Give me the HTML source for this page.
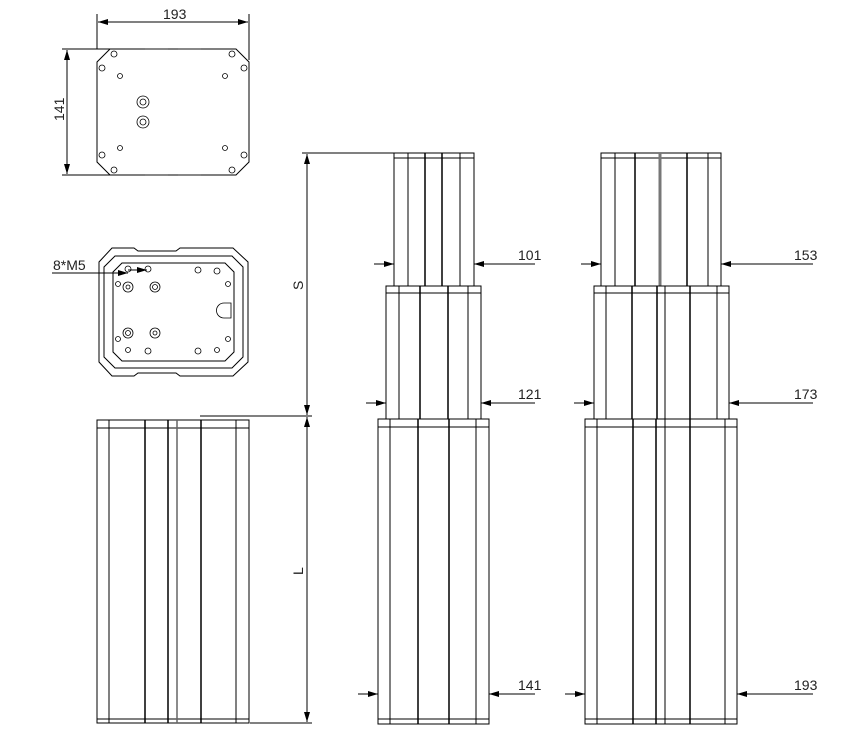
<!DOCTYPE html>
<html><head><meta charset="utf-8"><style>
html,body{margin:0;padding:0;background:#fff;}
svg{display:block;}
text{font-family:"Liberation Sans",sans-serif;font-size:14px;fill:#222;}
</style></head><body>
<svg width="863" height="738" viewBox="0 0 863 738" xmlns="http://www.w3.org/2000/svg">
<defs>
<marker id="a" viewBox="0 0 10 6" refX="10" refY="3" markerWidth="16" markerHeight="6" orient="auto-start-reverse" markerUnits="userSpaceOnUse"><path d="M0,0 L10,3 L0,6z" fill="#000"/></marker>
</defs>
<g stroke="#000" stroke-width="1" fill="none">
<line x1="97" y1="14" x2="97" y2="49"/><line x1="249" y1="14" x2="249" y2="60"/>
<line x1="98" y1="22" x2="248" y2="22" marker-start="url(#a)" marker-end="url(#a)"/>
<line x1="62" y1="49" x2="110" y2="49"/><line x1="62" y1="175" x2="110" y2="175"/>
<line x1="67" y1="50" x2="67" y2="174" marker-start="url(#a)" marker-end="url(#a)"/>
<path d="M110,49 L236,49 L249,62 L249,162 L236,175 L110,175 L97,162 L97,62 Z"/>
<g stroke="#888" stroke-width="2"><line x1="145" y1="49" x2="168" y2="49"/><line x1="178" y1="49" x2="201" y2="49"/><line x1="145" y1="175" x2="168" y2="175"/><line x1="178" y1="175" x2="201" y2="175"/></g>
<g stroke-width="0.8">
<circle cx="114" cy="54" r="3"/><circle cx="232" cy="54" r="3"/><circle cx="102" cy="68" r="3"/><circle cx="244" cy="68" r="3"/>
<circle cx="102" cy="155" r="3"/><circle cx="244" cy="155" r="3"/><circle cx="114" cy="170" r="3"/><circle cx="232" cy="170" r="3"/>
<circle cx="120" cy="76" r="2.5"/><circle cx="225" cy="76" r="2.5"/><circle cx="120" cy="148" r="2.5"/><circle cx="225" cy="148" r="2.5"/>
<circle cx="143" cy="102" r="6"/><circle cx="143" cy="102" r="3"/><circle cx="143" cy="122" r="6"/><circle cx="143" cy="122" r="3"/>
</g>
<path d="M112,248 L134,248 L138,251 L176,251 L180,248 L233,248 L248,262 L248,362 L233,376 L180,376 L176,373 L138,373 L134,376 L112,376 L99,362 L99,262 Z"/>
<path d="M115,256 L232,256 L243,267 L243,357 L232,368 L115,368 L104,357 L104,267 Z"/>
<path d="M122,263 L225,263 L234,272 L234,352 L225,361 L122,361 L113,352 L113,272 Z"/>
<g stroke-width="0.8">
<circle cx="128" cy="269" r="3"/><circle cx="148" cy="269" r="3"/><circle cx="198" cy="270" r="3"/><circle cx="217" cy="271" r="3"/>
<circle cx="118" cy="284" r="2.5"/><circle cx="228" cy="284" r="2.5"/><circle cx="118" cy="339" r="2.5"/><circle cx="228" cy="339" r="2.5"/>
<circle cx="128" cy="350" r="2.5"/><circle cx="148" cy="351" r="3"/><circle cx="198" cy="351" r="3"/><circle cx="217" cy="350" r="2.5"/>
<circle cx="128" cy="287" r="5"/><circle cx="128" cy="287" r="2"/><circle cx="155" cy="287" r="5"/><circle cx="155" cy="287" r="2.5"/>
<circle cx="128" cy="333" r="5"/><circle cx="128" cy="333" r="2.5"/><circle cx="155" cy="333" r="5"/><circle cx="155" cy="333" r="2"/>
<path d="M224,303 L231,303 L231,318 L224,318 A7,7 0 0 1 224,303 Z"/>
</g>
<line x1="52" y1="273" x2="128" y2="273" marker-end="url(#a)"/>
<line x1="128" y1="270" x2="147" y2="270" marker-end="url(#a)"/>
<line x1="302" y1="153" x2="394" y2="153"/>
<line x1="200" y1="416" x2="312" y2="416"/>
<line x1="250" y1="723" x2="312" y2="723"/>
<line x1="307" y1="154" x2="307" y2="415" marker-start="url(#a)" marker-end="url(#a)"/>
<line x1="307" y1="417" x2="307" y2="722" marker-start="url(#a)" marker-end="url(#a)"/>
<rect x="97" y="420" width="152" height="303"/>
<line x1="97" y1="428" x2="249" y2="428"/><line x1="97" y1="719" x2="249" y2="719"/>
<g><line x1="109" y1="420" x2="109" y2="723"/><line x1="145" y1="420" x2="145" y2="723" stroke-width="1.5"/><line x1="168" y1="420" x2="168" y2="723" stroke-width="1.5"/><line x1="177" y1="420" x2="177" y2="723" stroke="#666" stroke-width="1.5"/><line x1="201" y1="420" x2="201" y2="723" stroke-width="1.5"/><line x1="236" y1="420" x2="236" y2="723"/></g>
<rect x="394" y="153" width="80" height="133"/><line x1="394" y1="158" x2="474" y2="158"/>
<line x1="408" y1="153" x2="408" y2="286"/><line x1="425" y1="153" x2="425" y2="286" stroke-width="1.5"/><line x1="442" y1="153" x2="442" y2="286" stroke-width="1.5"/><line x1="460" y1="153" x2="460" y2="286"/>
<rect x="386" y="286" width="95" height="133"/><line x1="386" y1="293" x2="481" y2="293"/>
<line x1="399" y1="286" x2="399" y2="419"/><line x1="420" y1="286" x2="420" y2="419" stroke-width="1.5"/><line x1="448" y1="286" x2="448" y2="419" stroke-width="1.5"/><line x1="468" y1="286" x2="468" y2="419"/>
<rect x="378" y="419" width="111" height="305"/><line x1="378" y1="427" x2="489" y2="427"/><line x1="378" y1="719" x2="489" y2="719"/>
<line x1="390" y1="419" x2="390" y2="724"/><line x1="418" y1="419" x2="418" y2="724" stroke-width="1.5"/><line x1="449" y1="419" x2="449" y2="724" stroke-width="1.5"/><line x1="476" y1="419" x2="476" y2="724"/>
<line x1="374" y1="264" x2="394" y2="264" marker-end="url(#a)"/><line x1="535" y1="264" x2="474" y2="264" marker-end="url(#a)"/>
<line x1="366" y1="403" x2="386" y2="403" marker-end="url(#a)"/><line x1="535" y1="403" x2="481" y2="403" marker-end="url(#a)"/>
<line x1="358" y1="694" x2="378" y2="694" marker-end="url(#a)"/><line x1="535" y1="694" x2="489" y2="694" marker-end="url(#a)"/>
<rect x="601" y="153" width="120" height="133"/><line x1="601" y1="158" x2="721" y2="158"/>
<line x1="615" y1="153" x2="615" y2="286"/><line x1="635" y1="153" x2="635" y2="286" stroke-width="1.5"/><line x1="660" y1="153" x2="660" y2="286" stroke="#777" stroke-width="3"/><line x1="687" y1="153" x2="687" y2="286" stroke-width="1.5"/><line x1="708" y1="153" x2="708" y2="286"/>
<rect x="594" y="286" width="135" height="133"/><line x1="594" y1="293" x2="729" y2="293"/>
<line x1="606" y1="286" x2="606" y2="419"/><line x1="632" y1="286" x2="632" y2="419" stroke-width="1.5"/><line x1="657" y1="286" x2="657" y2="419" stroke-width="1.5"/><line x1="665" y1="286" x2="665" y2="419"/><line x1="690" y1="286" x2="690" y2="419" stroke-width="1.5"/><line x1="717" y1="286" x2="717" y2="419"/>
<rect x="585" y="419" width="152" height="305"/><line x1="585" y1="427" x2="737" y2="427"/><line x1="585" y1="719" x2="737" y2="719"/>
<line x1="597" y1="419" x2="597" y2="724"/><line x1="633" y1="419" x2="633" y2="724" stroke-width="1.5"/><line x1="656" y1="419" x2="656" y2="724" stroke-width="1.5"/><line x1="665" y1="419" x2="665" y2="724"/><line x1="690" y1="419" x2="690" y2="724" stroke-width="1.5"/><line x1="725" y1="419" x2="725" y2="724"/>
<line x1="581" y1="264" x2="601" y2="264" marker-end="url(#a)"/><line x1="813" y1="264" x2="721" y2="264" marker-end="url(#a)"/>
<line x1="574" y1="403" x2="594" y2="403" marker-end="url(#a)"/><line x1="813" y1="403" x2="729" y2="403" marker-end="url(#a)"/>
<line x1="565" y1="694" x2="585" y2="694" marker-end="url(#a)"/><line x1="813" y1="694" x2="737" y2="694" marker-end="url(#a)"/>
</g>
<text x="163" y="19">193</text>
<text transform="translate(64,121) rotate(-90)">141</text>
<text x="53" y="270">8*M5</text>
<text transform="translate(303,290) rotate(-90)">S</text>
<text transform="translate(303,575) rotate(-90)">L</text>
<text x="518" y="260">101</text>
<text x="518" y="399">121</text>
<text x="518" y="690">141</text>
<text x="794" y="260">153</text>
<text x="794" y="399">173</text>
<text x="794" y="690">193</text>
</svg>
</body></html>
